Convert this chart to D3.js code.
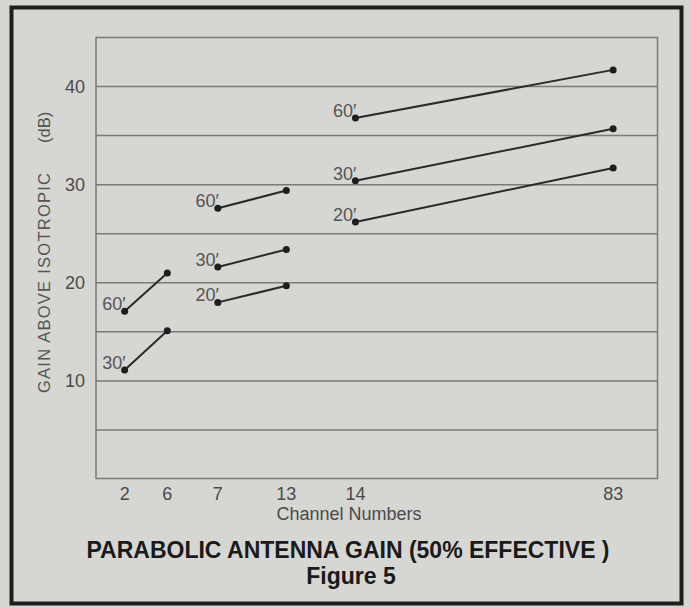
<!DOCTYPE html>
<head>
  <meta charset="utf-8">
  <script src="https://d3js.org/d3.v7.min.js"></script>
  <style>
    body { margin: 0; background: #d5d5d1; }
    svg { display: block; }
    text { font-family: "Liberation Sans", Arial, sans-serif; }
    .tickLabel { font-size: 18px; fill: #4a4a4a; }
    .dishLabel { font-size: 18px; fill: #555; }
    .axisTitle { font-size: 16.5px; fill: #555; }
    .chartTitle { font-size: 23px; font-weight: bold; fill: #1a1a1a; }
  </style>
</head>

<body>
  <script>
    // picture size
    var outerWidth = 691,
      outerHeight = 608;

    // channel numbers along the bottom
    var channels = [2, 6, 7, 13, 14, 83];

    // the three tv bands (first and last channel)
    var bands = [[2, 6], [7, 13], [14, 83]];

    // gain in dB at the two ends of each band, one array per dish size
    var gain60 = [[17.1, 21.0], [27.6, 29.4], [36.8, 41.7]];
    var gain30 = [[11.1, 15.1], [21.6, 23.4], [30.4, 35.7]];
    var gain20 = [null, [18.0, 19.7], [26.2, 31.7]];

    var dishLabels = ["60′", "30′", "20′"];

    // gridlines every 5 dB, labels every 10
    var gridValues = [5, 10, 15, 20, 25, 30, 35, 40];
    var yTickValues = [10, 20, 30, 40];

    var margin = { top: 37.5, left: 96, right: 33.5, bottom: 129.5 };
    var width = outerWidth - margin.left - margin.right,
      height = outerHeight - margin.top - margin.bottom;

    // channels are not spaced evenly, so a piecewise scale (fractions of the plot width)
    var xScale = d3.scaleLinear()
      .domain(channels)
      .range([0.051, 0.127, 0.217, 0.339, 0.462, 0.921].map(function(f) { return f * width; }));

    var yScale = d3.scaleLinear()
      .domain([0, 45])
      .range([height + 0.5, 0]);

    var svg = d3.select("body")
      .append("svg")
      .attr("width", outerWidth)
      .attr("height", outerHeight);

    // dark frame round the figure
    svg.append("rect")
      .attr("x", 11.5)
      .attr("y", 7.5)
      .attr("width", 670)
      .attr("height", 596)
      .attr("fill", "#d6d6d2")
      .attr("stroke", "#1e1e1e")
      .attr("stroke-width", 4);

    var g = svg.append("g")
      .attr("transform", "translate(" + margin.left + " " + margin.top + ")");

    // plot box
    g.append("rect")
      .attr("width", width)
      .attr("height", height)
      .attr("fill", "none")
      .attr("stroke", "#7a7a7a")
      .attr("stroke-width", 1.5);

    g.selectAll(".grid")
      .data(gridValues)
      .enter().append("line")
      .attr("class", "grid")
      .attr("x1", 0)
      .attr("x2", width)
      .attr("y1", function(d) { return yScale(d); })
      .attr("y2", function(d) { return yScale(d); })
      .attr("stroke", "#7a7a7a")
      .attr("stroke-width", 1.5);

    // y labels
    g.selectAll(".yLabel")
      .data(yTickValues)
      .enter().append("text")
      .attr("class", "tickLabel")
      .attr("x", -11)
      .attr("y", function(d) { return yScale(d); })
      .attr("dy", "0.36em")
      .attr("text-anchor", "end")
      .text(function(d) { return d; });

    // x labels
    g.selectAll(".xLabel")
      .data(channels)
      .enter().append("text")
      .attr("class", "tickLabel")
      .attr("x", function(d) { return xScale(d); })
      .attr("y", height + 21)
      .attr("text-anchor", "middle")
      .text(function(d) { return d; });

    g.append("text")
      .attr("class", "tickLabel")
      .attr("x", 253)
      .attr("y", height + 41)
      .attr("text-anchor", "middle")
      .text("Channel Numbers");

    // rotated y title, two pieces
    svg.append("text")
      .attr("class", "axisTitle")
      .attr("transform", "translate(50 393) rotate(-90)")
      .attr("textLength", 220)
      .attr("lengthAdjust", "spacing")
      .text("GAIN ABOVE ISOTROPIC");

    svg.append("text")
      .attr("class", "axisTitle")
      .attr("transform", "translate(50 143) rotate(-90)")
      .text("(dB)");

    // build segments from the arrays
    var segments = [];
    [gain60, gain30, gain20].forEach(function(series, i) {
      series.forEach(function(pair, b) {
        if (!pair) return;
        segments.push({
          label: dishLabels[i],
          x0: bands[b][0], x1: bands[b][1],
          y0: pair[0], y1: pair[1]
        });
      });
    });

    g.selectAll(".seg")
      .data(segments)
      .enter().append("line")
      .attr("class", "seg")
      .attr("x1", function(d) { return xScale(d.x0); })
      .attr("y1", function(d) { return yScale(d.y0); })
      .attr("x2", function(d) { return xScale(d.x1); })
      .attr("y2", function(d) { return yScale(d.y1); })
      .attr("stroke", "#2a2a2a")
      .attr("stroke-width", 2);

    segments.forEach(function(d) {
      [[d.x0, d.y0], [d.x1, d.y1]].forEach(function(p) {
        g.append("circle")
          .attr("cx", xScale(p[0]))
          .attr("cy", yScale(p[1]))
          .attr("r", 3.5)
          .attr("fill", "#1e1e1e");
      });
    });

    g.selectAll(".dishLabel")
      .data(segments)
      .enter().append("text")
      .attr("class", "dishLabel")
      .attr("x", function(d) { return xScale(d.x0) + 1; })
      .attr("y", function(d) { return yScale(d.y0) - 1; })
      .attr("text-anchor", "end")
      .text(function(d) { return d.label; });

    // caption under the chart
    svg.append("text")
      .attr("class", "chartTitle")
      .attr("x", 348)
      .attr("y", 558)
      .attr("text-anchor", "middle")
      .text("PARABOLIC ANTENNA GAIN (50% EFFECTIVE )");

    svg.append("text")
      .attr("class", "chartTitle")
      .attr("x", 351)
      .attr("y", 584)
      .attr("text-anchor", "middle")
      .text("Figure 5");
  </script>
</body>
